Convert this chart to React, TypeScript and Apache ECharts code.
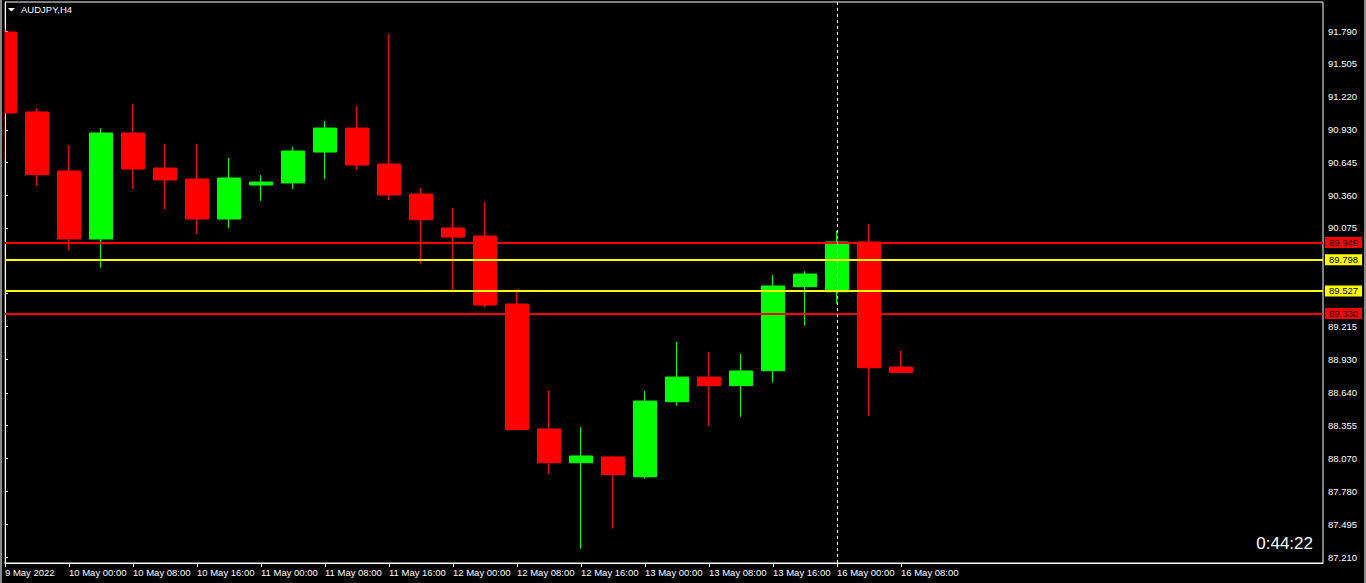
import React, { useEffect, useRef } from "react";
import * as echarts from "echarts";

// H4 candle times (index = position on the x axis)
const times = [
  "9 May 16:00", "9 May 20:00",
  "10 May 00:00", "10 May 04:00", "10 May 08:00", "10 May 12:00", "10 May 16:00", "10 May 20:00",
  "11 May 00:00", "11 May 04:00", "11 May 08:00", "11 May 12:00", "11 May 16:00", "11 May 20:00",
  "12 May 00:00", "12 May 04:00", "12 May 08:00", "12 May 12:00", "12 May 16:00", "12 May 20:00",
  "13 May 00:00", "13 May 04:00", "13 May 08:00", "13 May 12:00", "13 May 16:00", "13 May 20:00",
  "16 May 00:00", "16 May 04:00", "16 May 08:00",
];

const opens = [
  91.781, 91.085, 90.571, 89.979, 90.902, 90.597, 90.501, 90.153, 90.449, 90.467,
  90.736, 90.945, 90.632, 90.371, 90.075, 90.005, 89.413, 88.325, 88.031, 88.081,
  87.909, 88.562, 88.777, 88.702, 88.832, 89.564, 89.520, 89.953, 88.864,
];
const closes = [
  91.076, 90.539, 89.979, 90.902, 90.588, 90.493, 90.153, 90.510, 90.475, 90.745,
  90.945, 90.623, 90.362, 90.147, 89.996, 89.404, 88.319, 88.031, 88.090, 87.927,
  88.568, 88.777, 88.702, 88.830, 89.570, 89.674, 89.953, 88.858, 88.818,
];
const lows = [
  90.678, 90.443, 89.877, 89.729, 90.414, 90.240, 90.022, 90.075, 90.310, 90.414,
  90.501, 90.580, 90.319, 89.764, 89.529, 89.387, 88.315, 87.935, 87.282, 87.457,
  87.892, 88.528, 88.353, 88.432, 88.728, 89.224, 89.416, 88.440, 88.818,
];
const highs = [
  91.805, 91.120, 90.797, 90.945, 91.154, 90.806, 90.806, 90.684, 90.536, 90.780,
  91.006, 91.137, 91.764, 90.423, 90.249, 90.301, 89.544, 88.656, 88.342, 88.090,
  88.656, 89.082, 88.995, 88.978, 89.666, 89.700, 90.049, 90.110, 89.004,
];

// x tick positions (candle indices) and their labels
const xTickIdx = [0, 2, 4, 6, 8, 10, 12, 14, 16, 18, 20, 22, 24, 26, 28];
const xTickLabels = [
  "9 May 2022", "10 May 00:00", "10 May 08:00", "10 May 16:00", "11 May 00:00",
  "11 May 08:00", "11 May 16:00", "12 May 00:00", "12 May 08:00", "12 May 16:00",
  "13 May 00:00", "13 May 08:00", "13 May 16:00", "16 May 00:00", "16 May 08:00",
];

// price scale ticks (all tick marks) and the labels that are visible
const yTicks = [
  91.790, 91.505, 91.220, 90.930, 90.645, 90.360, 90.075, 89.790, 89.505,
  89.215, 88.930, 88.640, 88.355, 88.070, 87.780, 87.495, 87.210,
];
const yLabels = [
  91.790, 91.505, 91.220, 90.930, 90.645, 90.360, 90.075,
  89.215, 88.930, 88.640, 88.355, 88.070, 87.780, 87.495, 87.210,
];

// horizontal levels
const levelValues = [89.949, 89.798, 89.527, 89.330];
const levelColors = ["#ff0000", "#ffff00", "#ffff00", "#ff0000"];
const currentPrice = 88.818;
const separatorIndex = 26; // 16 May 00:00

const symbolName = "AUDJPY,H4";
const timerText = "0:44:22";

const FONT = "Liberation Sans";
const FS = 9.5;

export default function App() {
  const ref = useRef<HTMLDivElement>(null);

  useEffect(() => {
    const chart = echarts.init(ref.current!, null, { renderer: "svg" });
    const candleData = times.map((_, i) => [i, opens[i], closes[i], lows[i], highs[i]]);

    const tagLabel = (bg: string, v: number) => ({
      show: true,
      position: "end",
      distance: 2,
      formatter: v.toFixed(3),
      color: "#000",
      backgroundColor: bg,
      padding: [1, 4, 0, 4],
      lineHeight: 10,
      fontSize: FS,
      fontFamily: FONT,
    });

    const markData: any[] = levelValues.map((v, i) => ({
      yAxis: v,
      lineStyle: { color: levelColors[i], width: 2, type: "solid" },
      label: tagLabel(levelColors[i], v),
    }));
    markData.push({
      yAxis: currentPrice,
      lineStyle: { opacity: 0, width: 0 },
      label: tagLabel("#ffffff", currentPrice),
    });
    markData.push({
      xAxis: separatorIndex,
      lineStyle: { color: "#ffffff", width: 1, type: [3, 3] },
      label: { show: false },
    });

    chart.setOption({
      animation: false,
      backgroundColor: "#000",
      grid: {
        left: 5,
        right: 43,
        top: 2,
        bottom: 20,
        show: true,
        borderColor: "#ffffff",
        borderWidth: 1,
        backgroundColor: "#000",
      },
      xAxis: {
        type: "value",
        min: 0,
        max: 41.1875,
        axisLine: { show: true, onZero: false, lineStyle: { color: "#ffffff" } },
        axisTick: { show: true, customValues: xTickIdx, length: 4, lineStyle: { color: "#ffffff" } },
        axisLabel: {
          customValues: xTickIdx,
          formatter: (v: number) => xTickLabels[xTickIdx.indexOf(Math.round(v))] ?? "",
          align: "left",
          color: "#ffffff",
          fontFamily: FONT,
          fontSize: FS,
          margin: 4,
        },
        splitLine: { show: false },
      },
      yAxis: {
        type: "value",
        position: "right",
        min: 87.158,
        max: 92.0425,
        axisLine: { show: true, lineStyle: { color: "#ffffff" } },
        axisTick: { show: true, customValues: yTicks, length: 3, lineStyle: { color: "#ffffff" } },
        axisLabel: {
          customValues: yLabels,
          formatter: (v: number) => v.toFixed(3),
          color: "#ffffff",
          fontFamily: FONT,
          fontSize: FS,
          margin: 5,
        },
        splitLine: { show: false },
      },
      series: [
        {
          type: "candlestick",
          data: candleData,
          encode: { x: 0, y: [1, 2, 3, 4] },
          barWidth: 24,
          clip: true,
          itemStyle: {
            color: "#00ff00",
            color0: "#ff0000",
            borderColor: "#00ff00",
            borderColor0: "#ff0000",
            borderWidth: 1,
          },
          markLine: {
            silent: true,
            symbol: ["none", "none"],
            precision: 3,
            animation: false,
            data: markData,
          },
        },
      ],
      graphic: [
        { type: "rect", z: 100, shape: { x: 0, y: 0, width: 4.5, height: 562 }, style: { fill: "#000" }, silent: true },
        { type: "rect", z: 101, shape: { x: 0, y: 0, width: 2, height: 583 }, style: { fill: "#8a8a8a" }, silent: true },
        { type: "rect", z: 101, shape: { x: 1364, y: 0, width: 2, height: 583 }, style: { fill: "#8a8a8a" }, silent: true },
        {
          type: "polygon",
          z: 101,
          shape: { points: [[8, 8], [15, 8], [11.5, 11.5]] },
          style: { fill: "#ffffff" },
          silent: true,
        },
        {
          type: "text",
          z: 101,
          x: 21,
          y: 9.5,
          style: {
            text: symbolName,
            fill: "#ffffff",
            font: `9.5px "${FONT}"`,
            align: "left",
            textAlign: "left",
            verticalAlign: "middle",
            textVerticalAlign: "middle",
          },
          silent: true,
        },
        {
          type: "text",
          z: 101,
          x: 1313,
          y: 543,
          style: {
            text: timerText,
            fill: "#ffffff",
            font: `17px "${FONT}"`,
            align: "right",
            textAlign: "right",
            verticalAlign: "middle",
            textVerticalAlign: "middle",
          },
          silent: true,
        },
      ],
    });

    return () => chart.dispose();
  }, []);

  return (
    <div
      ref={ref}
      style={{ position: "fixed", left: 0, top: 0, width: 1366, height: 583, background: "#000" }}
    />
  );
}
